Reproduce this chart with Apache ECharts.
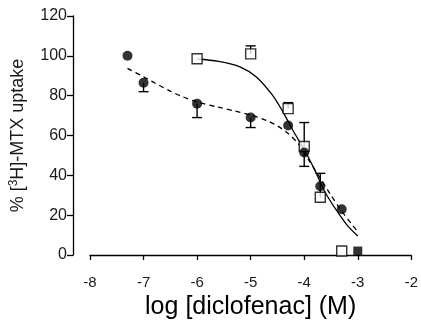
<!DOCTYPE html>
<html>
<head>
<meta charset="utf-8">
<script src="https://cdn.jsdelivr.net/npm/echarts@6/dist/echarts.min.js"></script>
<style>
  html, body { margin: 0; padding: 0; background: #fff; }
  #chart { width: 421px; height: 326px; }
</style>
</head>
<body>
<div id="chart"></div>
<script>
// Filled circles (dashed fit)
const filledX   = [-7.3, -7.0, -6.0, -5.0, -4.3, -4.0, -3.7, -3.3, -3.0];
const filledY   = [100, 86.5, 76, 69, 65, 51.5, 34.5, 23, 2];
const filledErr = [0, 4.5, 7, 5, 0, 7, 0, 0, 0];
// Open squares (solid fit)
const openX   = [-6.0, -5.0, -4.3, -4.0, -3.7, -3.3];
const openY   = [98.5, 101, 73.5, 54.5, 29, 2];
const openErr = [0, 4, 3, 12, 12, 0];
// Fitted curves
const solidFitX = [-6.0, -5.6, -5.2, -4.9, -4.6, -4.4, -4.2, -4.0, -3.8, -3.7, -3.6, -3.4, -3.2, -3.0];
const solidFitY = [98.4, 97.2, 94.5, 89.5, 80.5, 72, 62, 53, 42.5, 36.5, 31, 22.5, 15, 9.5];
const dashFitX = [-7.3, -7.0, -6.8, -6.5, -6.3, -6.0, -5.6, -5.3, -5.0, -4.7, -4.5, -4.3, -4.1, -3.9, -3.7, -3.5, -3.3, -3.1, -3.0];
const dashFitY = [93.7, 89.5, 86.5, 82.3, 79.8, 76.8, 74.2, 72.3, 70.3, 67.5, 64.8, 61, 55.5, 47, 38.5, 30, 22, 15, 11.7];
// Axis ticks
const xTicks = [-8, -7, -6, -5, -4, -3, -2];
const yTicks = [0, 20, 40, 60, 80, 100, 120];

const zip = (a, b) => a.map((v, i) => [v, b[i]]);
const filledErrData = filledX.map((x, i) => [x, filledY[i], filledY[i] - filledErr[i]]).filter((d, i) => filledErr[i] > 0);
const openErrData = openX.map((x, i) => [x, openY[i], openY[i] + openErr[i]]).filter((d, i) => openErr[i] > 0);

function errRender(params, api) {
  const p0 = api.coord([api.value(0), api.value(1)]);
  const p1 = api.coord([api.value(0), api.value(2)]);
  const st = { stroke: '#000', lineWidth: 1.4 };
  return {
    type: 'group',
    children: [
      { type: 'line', shape: { x1: p0[0], y1: p0[1], x2: p1[0], y2: p1[1] }, style: st },
      { type: 'line', shape: { x1: p1[0] - 5, y1: p1[1], x2: p1[0] + 5, y2: p1[1] }, style: st }
    ]
  };
}

const chart = echarts.init(document.getElementById('chart'), null, { renderer: 'canvas' });
const font = '"Liberation Sans", Arial, sans-serif';
chart.setOption({
  animation: false,
  backgroundColor: '#fff',
  grid: { left: 88, right: 7, top: 16, bottom: 71 },
  xAxis: {
    type: 'value', min: xTicks[0], max: xTicks[xTicks.length - 1], interval: 1,
    offset: 16,
    axisLine: { lineStyle: { color: '#000', width: 1.3 } },
    axisTick: { length: 5, lineStyle: { color: '#000', width: 1.3 } },
    axisLabel: { color: '#1a1a1a', fontSize: 15, fontFamily: font, margin: 4 },
    splitLine: { show: false },
    name: 'log [diclofenac] (M)', nameLocation: 'middle', nameGap: 23,
    nameTextStyle: { color: '#000', fontSize: 25, fontFamily: font }
  },
  yAxis: {
    type: 'value', min: yTicks[0], max: yTicks[yTicks.length - 1], interval: 20,
    offset: 17,
    axisLine: { show: true, lineStyle: { color: '#000', width: 1.3 } },
    axisTick: { show: true, length: 6, lineStyle: { color: '#000', width: 1.3 } },
    axisLabel: { color: '#1a1a1a', fontSize: 16, fontFamily: font, margin: 6 },
    splitLine: { show: false },
    name: '% [{sup|3}H]-MTX uptake', nameLocation: 'middle', nameGap: 45, nameRotate: 90,
    nameTextStyle: {
      color: '#1a1a1a', fontSize: 18, fontFamily: font,
      rich: { sup: { fontSize: 12, verticalAlign: 'top', padding: [0, 0, 8, 0], fontFamily: font, color: '#1a1a1a' } }
    }
  },
  series: [
    { type: 'line', data: zip(solidFitX, solidFitY), showSymbol: false, smooth: 0.3, z: 1,
      lineStyle: { color: '#000', width: 1.3, type: 'solid' } },
    { type: 'line', data: zip(dashFitX, dashFitY), showSymbol: false, smooth: 0.3, z: 1,
      lineStyle: { color: '#000', width: 1.3, type: [5, 4] } },
    { type: 'custom', renderItem: errRender, data: filledErrData, encode: { x: 0, y: [1, 2] }, z: 2 },
    { type: 'custom', renderItem: errRender, data: openErrData, encode: { x: 0, y: [1, 2] }, z: 2 },
    { type: 'scatter', data: zip(openX, openY), symbol: 'rect', symbolSize: 10, z: 3,
      itemStyle: { color: '#fff', borderColor: '#000', borderWidth: 1.4 } },
    { type: 'scatter', z: 4,
      data: zip(filledX, filledY).map((d, i) => i === filledX.length - 1 ? { value: d, symbol: 'rect', symbolSize: 9 } : d),
      symbol: 'circle', symbolSize: 10,
      itemStyle: { color: '#000' } }
  ]
});
</script>
</body>
</html>
